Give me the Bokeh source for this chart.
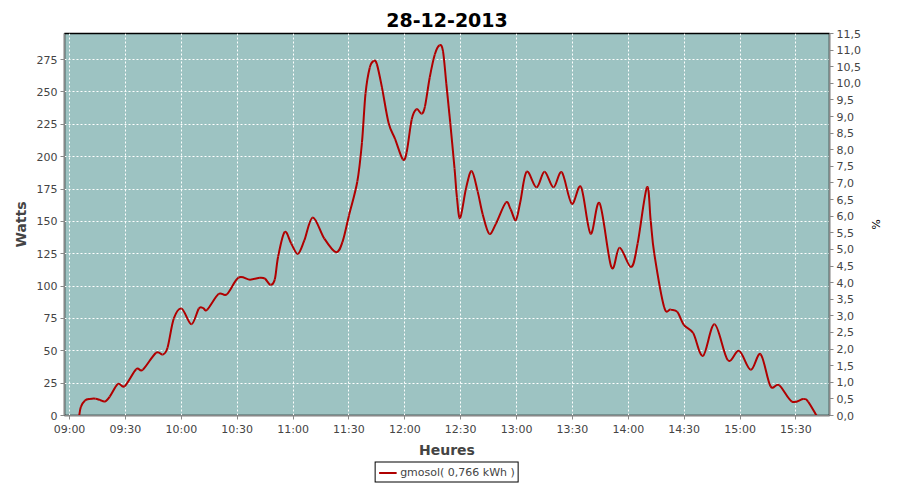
import pandas as pd
from bokeh.plotting import figure
from bokeh.layouts import column
from bokeh.models import (LinearAxis, Range1d, FixedTicker, DatetimeTickFormatter,
                          Legend, LegendItem, ColumnDataSource)
from bokeh.embed import file_html
from bokeh.resources import INLINE

title = "28-12-2013"
series_name = "gmosol( 0,766 kWh )"
times = ["09:05:12", "09:06:06", "09:08:18", "09:11:00", "09:14:00", "09:16:18", "09:19:00",
         "09:21:36", "09:26:00", "09:29:36", "09:35:48", "09:39:18", "09:46:24", "09:50:00",
         "09:52:36", "09:56:00", "10:00:12", "10:05:24", "10:09:24", "10:11:42", "10:13:54",
         "10:20:00", "10:24:30", "10:30:42", "10:36:54", "10:42:12", "10:44:54", "10:47:54",
         "10:50:12", "10:52:00", "10:55:30", "10:59:00", "11:02:36", "11:06:06", "11:10:36",
         "11:16:48", "11:23:00", "11:26:30", "11:30:00", "11:34:30", "11:37:00", "11:38:54",
         "11:41:12", "11:43:18", "11:45:00", "11:47:42", "11:51:18", "11:54:48", "11:58:54",
         "12:01:00", "12:03:42", "12:06:18", "12:09:00", "12:10:48", "12:13:24", "12:16:06",
         "12:18:42", "12:20:30", "12:22:18", "12:24:24", "12:26:42", "12:28:00", "12:29:42",
         "12:32:54", "12:35:54", "12:39:06", "12:41:48", "12:45:18", "12:48:54", "12:54:12",
         "12:56:48", "12:59:36", "13:02:00", "13:05:24", "13:10:42", "13:15:00", "13:19:48",
         "13:24:18", "13:29:36", "13:34:36", "13:39:42", "13:44:36", "13:50:54", "13:55:18",
         "14:01:30", "14:05:00", "14:10:00", "14:12:00", "14:13:54", "14:19:12", "14:22:42",
         "14:26:18", "14:29:48", "14:34:48", "14:40:06", "14:46:18", "14:53:24", "14:59:30",
         "15:05:42", "15:11:00", "15:16:18", "15:21:00", "15:27:48", "15:33:54", "15:36:30",
         "15:41:00"]
watts = [0, 6.6, 11.6, 12.8, 13, 12, 10.8,
         14.6, 24.4, 22.7, 35.8, 35.3, 48.4, 47.1,
         52.4, 75, 82.6, 70.5, 82.6, 83.1, 81.8,
         93.9, 93.7, 106.5, 105, 106.5, 105.8, 101,
         105.2, 122.9, 141.8, 133, 124.9, 135.5, 153.1,
         136.7, 126.2, 134, 154.4, 180.8, 211, 248.8,
         269, 274, 271.5, 253.8, 226, 213.6, 198,
         203.5, 228.7, 236.7, 233.2, 238.7, 261.4, 279,
         286.1, 281.6, 256.3, 226.1, 190.9, 168.3, 152.6,
         175.8, 188.9, 173.2, 155.6, 140.5, 148.1, 164.5,
         159.4, 151, 165, 188.4, 176.3, 188.4, 176.3,
         187.9, 163.7, 176.6, 140.5, 164, 114.6, 129.7,
         114.8, 133, 176.3, 150.6, 125.4, 83.9, 81.8,
         80.1, 70, 63.7, 46.1, 70.5, 42.8, 49.9,
         35.3, 47.4, 22.7, 23.4, 10.8, 12.8, 10.8,
         0]
watt_ticks = [0, 25, 50, 75, 100, 125, 150, 175, 200, 225, 250, 275]
pct_ticks = [i * 0.5 for i in range(24)]
hour_ticks = ["09:00", "09:30", "10:00", "10:30", "11:00", "11:30", "12:00",
              "12:30", "13:00", "13:30", "14:00", "14:30", "15:00", "15:30"]

day = "2013-12-28 "
xs = [pd.Timestamp(day + t).value / 1e6 for t in times]
ys = list(watts)
xticks = [pd.Timestamp(day + h).value / 1e6 for h in hour_ticks]
x0 = pd.Timestamp(day + "08:57:18").value / 1e6
x1 = pd.Timestamp(day + "15:48:00").value / 1e6

# Spline rendering (Catmull-Rom as Bezier segments through the read points)
n = len(xs)
seg = dict(x0=[], y0=[], x1=[], y1=[], cx0=[], cy0=[], cx1=[], cy1=[])
for i in range(n - 1):
    im, ip2 = max(i - 1, 0), min(i + 2, n - 1)
    seg["x0"].append(xs[i]); seg["y0"].append(ys[i])
    seg["x1"].append(xs[i + 1]); seg["y1"].append(ys[i + 1])
    seg["cx0"].append(xs[i] + (xs[i + 1] - xs[im]) / 6)
    seg["cy0"].append(ys[i] + (ys[i + 1] - ys[im]) / 6)
    seg["cx1"].append(xs[i + 1] - (xs[ip2] - xs[i]) / 6)
    seg["cy1"].append(ys[i + 1] - (ys[ip2] - ys[i]) / 6)

BG = "#9dc3c2"
TICK_COL = "#444444"
FONT = "DejaVu Sans"
RED = "#b00000"

p = figure(width=884, height=460, x_axis_type="datetime",
           output_backend="svg", toolbar_location=None,
           x_range=Range1d(x0, x1), y_range=Range1d(0, 295.2),
           min_border_left=64, min_border_right=47, min_border_top=33, min_border_bottom=45)
p.background_fill_color = BG
p.border_fill_color = "white"
p.outline_line_color = "black"
p.outline_line_width = 1.5

p.title.text = title
p.title.align = "center"
p.title.text_font = FONT
p.title.text_font_size = "19px"
p.title.text_font_style = "bold"
p.title.text_color = "black"
p.title.offset = 0
p.title.standoff = 13

p.bezier(x0="x0", y0="y0", x1="x1", y1="y1", cx0="cx0", cy0="cy0", cx1="cx1", cy1="cy1",
         source=ColumnDataSource(seg), line_color=RED, line_width=2)

# Axes
p.extra_y_ranges = {"pct": Range1d(0, 11.5)}
right = LinearAxis(y_range_name="pct", axis_label="%")
p.add_layout(right, "right")

for ax in [p.xaxis[0], p.yaxis[0], right]:
    ax.axis_line_color = "#888888"
    ax.major_tick_line_color = "#888888"
    ax.minor_tick_line_color = None
    ax.major_tick_out = 4
    ax.major_tick_in = 0
    ax.major_label_standoff = 3
    ax.major_label_text_font = FONT
    ax.major_label_text_font_size = "11px"
    ax.major_label_text_color = TICK_COL
    ax.axis_label_text_font = FONT
    ax.axis_label_text_font_style = "bold"
    ax.axis_label_text_color = TICK_COL

p.xaxis[0].ticker = FixedTicker(ticks=xticks)
p.xaxis[0].formatter = DatetimeTickFormatter(
    microseconds="%H:%M", milliseconds="%H:%M", seconds="%H:%M", minsec="%H:%M",
    minutes="%H:%M", hourmin="%H:%M", hours="%H:%M", days="%H:%M")
p.xaxis[0].axis_label = "Heures"
p.xaxis[0].axis_label_text_font_size = "14px"
p.xaxis[0].axis_label_standoff = 3

p.yaxis[0].ticker = FixedTicker(ticks=watt_ticks)
p.yaxis[0].axis_label = "Watts"
p.yaxis[0].axis_label_text_font_size = "14px"

right.ticker = FixedTicker(ticks=pct_ticks)
right.major_label_overrides = {t: f"{t:.1f}".replace(".", ",") for t in pct_ticks}
right.axis_label_text_font_size = "11px"
right.axis_label_text_font_style = "normal"
right.axis_label_text_color = "black"

# Grid
p.xgrid.ticker = FixedTicker(ticks=xticks)
p.ygrid.ticker = FixedTicker(ticks=watt_ticks)
for g in [p.xgrid[0], p.ygrid[0]]:
    g.grid_line_color = "white"
    g.grid_line_dash = "2 2"
    g.grid_line_width = 1

# Legend strip below the chart (proxy line renderer holds no visible data)
lf = figure(width=884, height=24, output_backend="svg", toolbar_location=None,
            x_range=Range1d(0, 1), y_range=Range1d(0, 1),
            min_border_left=0, min_border_right=0, min_border_top=0, min_border_bottom=0)
lf.axis.visible = False
lf.grid.visible = False
lf.outline_line_color = None
leg_r = lf.line(x=[float("nan")], y=[float("nan")], line_color=RED, line_width=2)
legend = Legend(items=[LegendItem(label=series_name, renderers=[leg_r])],
                orientation="horizontal", location="center")
legend.label_text_font = FONT
legend.label_text_font_size = "11px"
legend.label_text_color = TICK_COL
legend.border_line_color = "black"
legend.border_line_alpha = 1.0
legend.border_line_width = 1
legend.background_fill_color = "white"
legend.background_fill_alpha = 1.0
legend.padding = 3
legend.margin = 0
legend.glyph_width = 18
legend.glyph_height = 12
legend.label_height = 12
legend.label_standoff = 4
legend.spacing = 0
lf.add_layout(legend)

open("out.html", "w").write(file_html(column(p, lf, spacing=0), INLINE))
